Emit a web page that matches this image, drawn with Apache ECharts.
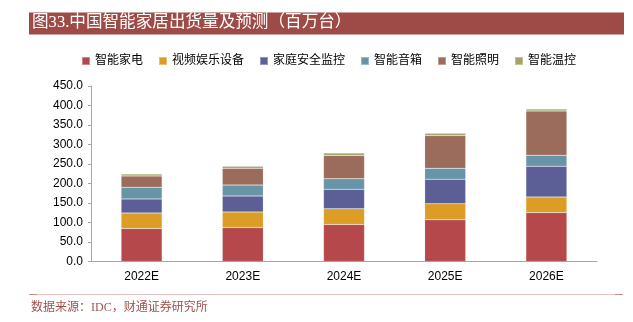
<!DOCTYPE html>
<html><head><meta charset="utf-8">
<script src="https://cdn.jsdelivr.net/npm/echarts@6/dist/echarts.min.js"></script>
<style>html,body{margin:0;padding:0;background:#fff}#c{width:633px;height:322px}</style>
</head><body><div id="c"></div>
<script>
const categories = ['2022E','2023E','2024E','2025E','2026E'];
const seriesNames = ['智能家电','视频娱乐设备','家庭安全监控','智能音箱','智能照明','智能温控'];
const appliances = [84.5, 87.0, 95.0, 107.0, 125.5];
const videoEntertainment = [40.0, 40.0, 40.0, 41.0, 40.0];
const homeSecurity = [36.0, 41.0, 50.0, 63.0, 79.0];
const speakers = [30.0, 28.0, 27.0, 28.0, 28.0];
const lighting = [29.0, 43.0, 60.0, 84.0, 113.5];
const thermostat = [5.0, 5.5, 6.0, 6.0, 5.0];
const yTicks = [0, 50, 100, 150, 200, 250, 300, 350, 400, 450];

const colors = ['#B5484A','#DB9D24','#5B5F96','#6894A8','#9B6B5C','#A3A466'];
const values = [appliances, videoEntertainment, homeSecurity, speakers, lighting, thermostat];
const serif = '"Liberation Serif","Noto Sans CJK SC",serif';
const sans = '"Liberation Sans",Arial,sans-serif';

const chart = echarts.init(document.getElementById('c'), null, {renderer:'canvas'});
chart.setOption({
  animation:false,
  color: colors,
  graphic:[
    {type:'rect', shape:{x:29,y:12.5,width:595,height:22}, style:{fill:'#9E4B48'}, z:0},
    {type:'text', left:32, top:14.8, style:{text:'图33.中国智能家居出货量及预测（百万台）', fill:'#FFFFFF', font:'16.6px '+serif}, z:2},
    {type:'rect', shape:{x:29,y:294,width:594,height:1}, style:{fill:'#E6C3C2'}},
    {type:'rect', shape:{x:29,y:294,width:8,height:1}, style:{fill:'#C98E8C'}},
    {type:'rect', shape:{x:615,y:294,width:8,height:1}, style:{fill:'#C98E8C'}},
    {type:'text', left:31, top:302, style:{text:'数据来源：IDC，财通证券研究所', fill:'#A0524F', font:'12px '+serif}}
  ],
  legend:{
    data: seriesNames,
    top: 50,
    left: 76,
    itemWidth: 8,
    itemHeight: 8,
    itemGap: 15,
    icon:'rect',
    textStyle:{fontSize:12, color:'#000', fontFamily:serif}
  },
  grid:{left:91, right:36, top:86, bottom:60.5, containLabel:false},
  xAxis:{
    type:'category',
    data: categories,
    axisLine:{lineStyle:{color:'#A6A6A6', width:1}},
    axisTick:{show:false},
    axisLabel:{color:'#000', fontSize:12, fontFamily:sans, margin:9}
  },
  yAxis:{
    type:'value',
    min: yTicks[0],
    max: yTicks[yTicks.length-1],
    interval: 50,
    axisLine:{show:true, lineStyle:{color:'#A6A6A6'}},
    axisTick:{show:true, length:3, lineStyle:{color:'#A6A6A6'}},
    splitLine:{show:false},
    axisLabel:{color:'#000', fontSize:12, fontFamily:sans, margin:8, formatter:v=>v.toFixed(1)}
  },
  series: seriesNames.map((n,i)=>({
    name:n, type:'bar', stack:'total', data: values[i], barWidth:41,
    itemStyle:{color:colors[i], borderColor:'rgba(255,255,255,0.35)', borderWidth:0.5}
  }))
});
</script></body></html>
